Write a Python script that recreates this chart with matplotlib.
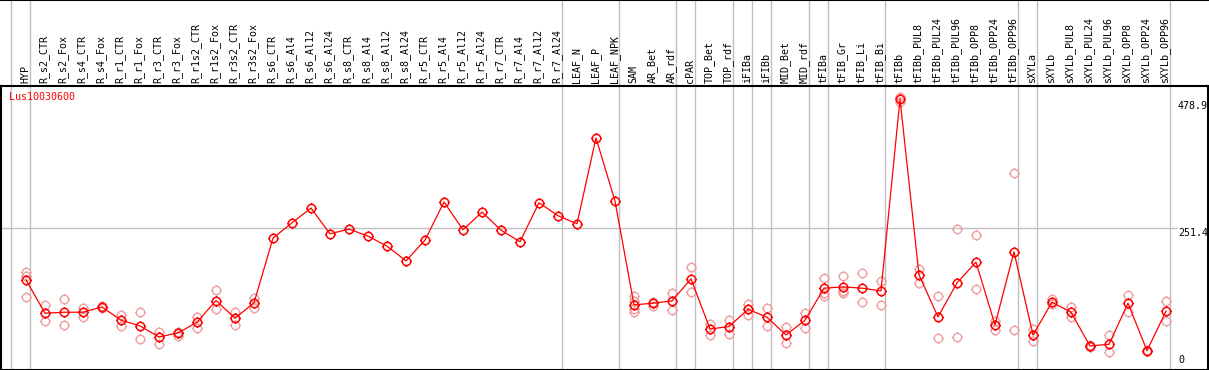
import numpy as np
import matplotlib
matplotlib.use("Agg")
import matplotlib.pyplot as plt
from matplotlib.path import Path

plt.rcParams['font.family'] = ['DejaVu Sans Mono']

gene = "Lus10030600"

samples = [
    "HYP", "R_s2_CTR", "R_s2_Fox", "R_s4_CTR", "R_s4_Fox", "R_r1_CTR", "R_r1_Fox",
    "R_r3_CTR", "R_r3_Fox", "R_r1s2_CTR", "R_r1s2_Fox", "R_r3s2_CTR", "R_r3s2_Fox",
    "R_s6_CTR", "R_s6_Al4", "R_s6_Al12", "R_s6_Al24", "R_s8_CTR", "R_s8_Al4",
    "R_s8_Al12", "R_s8_Al24", "R_r5_CTR", "R_r5_Al4", "R_r5_Al12", "R_r5_Al24",
    "R_r7_CTR", "R_r7_Al4", "R_r7_Al12", "R_r7_Al24", "LEAF_N", "LEAF_P", "LEAF_NPK",
    "SAM", "AR_Bet", "AR_rdf", "cPAR", "TOP_Bet", "TOP_rdf", "iFIBa", "iFIBb",
    "MID_Bet", "MID_rdf", "tFIBa", "tFIB_Gr", "tFIB_Li", "tFIB_Bi", "tFIBb",
    "tFIBb_PUL8", "tFIBb_PUL24", "tFIBb_PUL96", "tFIBb_OPP8", "tFIBb_OPP24",
    "tFIBb_OPP96", "sXYLa", "sXYLb", "sXYLb_PUL8", "sXYLb_PUL24", "sXYLb_PUL96",
    "sXYLb_OPP8", "sXYLb_OPP24", "sXYLb_OPP96",
]

# mean expression per sample
means = [
    158.7, 99.6, 101.4, 101.4, 110.8, 87.2, 77.2, 57.6, 64.7, 83.7, 122.1, 90.7, 118.1,
    232.6, 259.8, 285.8, 240.3, 248.6, 236.2, 218.4, 192.4, 229.1, 296.5, 247.4, 278.7,
    246.8, 226.2, 295.3, 272.2, 258.1, 410.0, 298.3,
    114.4, 117.4, 121.5, 160.5, 71.8, 76.0, 106.7, 92.5, 61.2, 87.2,
    144.0, 146.3, 144.0, 139.3, 478.9,
    167.6, 93.1, 153.4, 190.1, 78.9, 208.4,
    61.2, 119.1, 101.4, 41.7, 44.6, 117.4, 33.4, 103.2,
]

# individual replicates
replicates = [
    [172.9, 165.8, 128.6], [113.8, 85.4], [124.4, 78.3], [109.7, 93.7], [112.5, 108.5],
    [97.2, 76.6], [101.4, 53.5], [67.1, 44.6], [67.1, 59.0], [93.7, 74.2],
    [140.4, 106.7], [101.4, 78.3], [127.0, 109.7],
    [], [], [], [], [], [], [], [], [], [], [], [], [], [], [], [], [], [], [],
    [130.4, 122.0, 107.9, 102.0], [120.0, 112.6], [135.7, 104.9], [181.2, 136.9],
    [81.3, 61.8], [87.8, 62.4], [115.6, 97.2], [109.1, 77.2], [74.8, 47.0], [99.6, 74.2],
    [162.3, 130.4, 135.0], [165.2, 135.1, 139.0], [171.1, 119.1], [157.0, 115.0],
    [482.0, 473.0],
    [178.2, 154.0], [129.8, 55.3], [248.6, 57.6], [237.9, 142.8], [86.0, 70.6],
    [347.3, 69.5],
    [72.4, 50.7], [124.0, 115.6], [110.8, 93.7], [43.0, 40.0], [60.6, 30.4],
    [131.5, 101.4], [35.0, 32.0], [120.9, 85.4],
]

# index of the last sample in each group (-1 = left edge)
group_ends = [-1, 0, 28, 31, 34, 35, 37, 38, 39, 41, 42, 45, 52, 53, 60]

W, H = 1209, 370
fig = plt.figure(figsize=(W / 100, H / 100), dpi=100)

x = np.arange(len(samples))
ymax = max(means) * 1.05

# marker: circle with four small ticks
circ = Path.unit_circle()
ticks = Path([[0, 1], [0, 1.25], [0, -1], [0, -1.25], [1, 0], [1.25, 0], [-1, 0], [-1.25, 0]],
             [Path.MOVETO, Path.LINETO] * 4)
mark = Path.make_compound_path(circ, ticks)

# header with sample names
hax = fig.add_axes([0, 1 - 85.5 / H, 1, 85.5 / H])
hax.set_xlim((0 - 26) / 19, (1209 - 26) / 19)
hax.set_ylim(0, 1)
for s in ["left", "right", "bottom"]:
    hax.spines[s].set_visible(False)
hax.spines["top"].set_linewidth(1.5)
hax.set_xticks([])
hax.set_yticks([])
for i, name in enumerate(samples):
    hax.text(i - 0.05, 0.03, name, rotation=90, ha="center", va="bottom", fontsize=7.2)
for k in group_ends:
    hax.axvline(k + 0.21, color="#c0c0c0", lw=1.0)

# plot area
ax = fig.add_axes([1 / W, 0.5 / H, 1207 / W, 284 / H])
ax.set_xlim((1 - 26) / 19, (1208 - 26) / 19)
ax.set_ylim(0, ymax)
ax.set_xticks([])
ax.set_yticks([])
for s in ax.spines.values():
    s.set_linewidth(1.5)
for k in group_ends:
    ax.axvline(k + 0.21, color="#c0c0c0", lw=1.0, zorder=1)
ax.axhline(ymax / 2, xmax=(1176 - 1) / 1207, color="#c0c0c0", lw=1.0, zorder=1)

rx = [i for i, r in enumerate(replicates) for _ in r]
ry = [v for r in replicates for v in r]
ax.plot(rx, ry, ls="none", marker=mark, ms=7.5, mfc="none", mec="#eea0a0", mew=1.0, zorder=2)
ax.plot(x, means, color="red", lw=0.9, marker=mark, ms=7.5, mfc="none", mec="red",
        mew=1.1, zorder=3)

# right side value labels
lx = (1178 - 26) / 19
ax.annotate(f"{max(means):.1f}", (lx, max(means)), xytext=(0, -1.5), textcoords="offset points",
            ha="left", va="top", fontsize=7.2)
ax.annotate(f"{ymax / 2:.1f}", (lx, ymax / 2), xytext=(0, -0.7), textcoords="offset points",
            ha="left", va="top", fontsize=7.2)
ax.annotate("0", (lx, 0), xytext=(0, 3), textcoords="offset points",
            ha="left", va="bottom", fontsize=7.2)

fig.text(9 / W, 1 - 92 / H, gene, color="red", ha="left", va="top", fontsize=7.2)

fig.savefig("out.png", dpi=100)
